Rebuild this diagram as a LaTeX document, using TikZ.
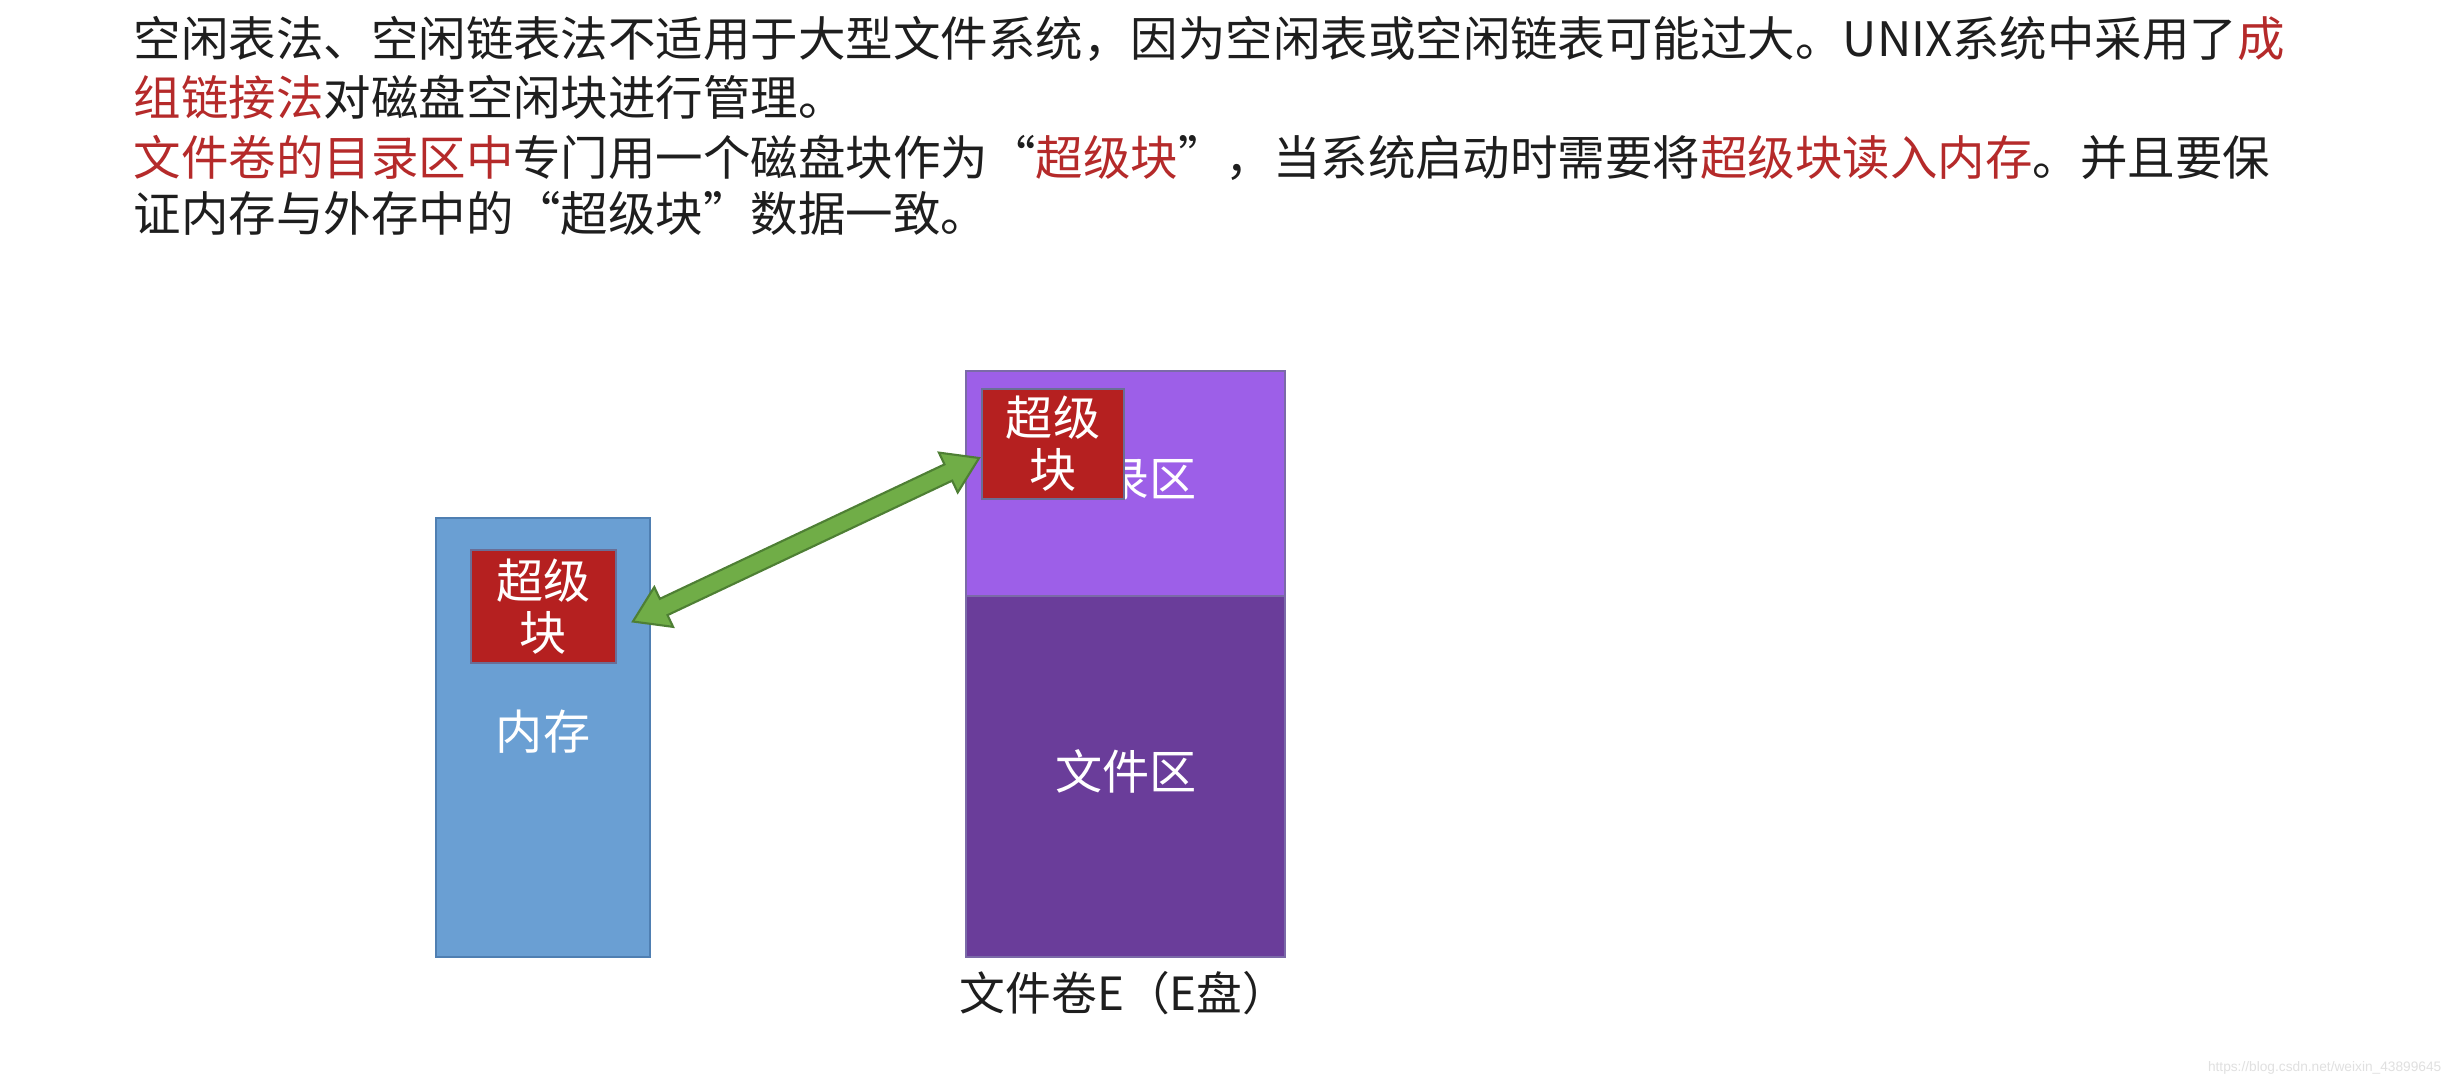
\documentclass[tikz,border=0pt]{standalone}
\usepackage{fontspec}
\setmainfont{Noto Sans CJK SC}
\newfontfamily\wmfont{Liberation Sans}
\usetikzlibrary{calc}
\definecolor{txt}{HTML}{1E1E1E}
\definecolor{hl}{HTML}{B52A2A}
\definecolor{memblue}{HTML}{6A9FD3}
\definecolor{memedge}{HTML}{4F7FB2}
\definecolor{sbred}{HTML}{B52020}
\definecolor{sbedge}{HTML}{6A6E96}
\definecolor{dirpurple}{HTML}{9D5FE8}
\definecolor{filepurple}{HTML}{6A3D9A}
\definecolor{diskedge}{HTML}{7B6AA8}
\definecolor{arrgreen}{HTML}{70AD47}
\definecolor{arredge}{HTML}{4E7F34}
\begin{document}
\begin{tikzpicture}[x=0.01cm,y=-0.01cm,
  bodyfont/.style={font=\fontsize{13.5pt}{16pt}\selectfont},
  textline/.style={bodyfont,text=txt,inner sep=0pt,anchor=west},
  region/.style={inner sep=0pt,line width=0.5pt},
  sblock/.style={region,fill=sbred,draw=sbedge,text=white,align=center,
    font=\fontsize{13.4pt}{14.8pt}\selectfont},
  whitelabel/.style={text=white,inner sep=0pt,font=\fontsize{13.4pt}{16pt}\selectfont},
  arrowfill/.style={fill=arrgreen,draw=arredge,line width=0.6pt,line join=miter}
]
\useasboundingbox[fill=white] (0,0) rectangle (2452,1088);

% --- explanatory text ---
\node[textline] (l1) at (133,39) {空闲表法、空闲链表法不适用于大型文件系统，因为空闲表或空闲链表可能过大。UNIX系统中采用了\textcolor{hl}{成}};
\node[textline] (l2) at (133,97) {\textcolor{hl}{组链接法}对磁盘空闲块进行管理。};
\node[textline] (l3) at (133,158) {\textcolor{hl}{文件卷的目录区中}专门用一个磁盘块作为“\textcolor{hl}{超级块}”，当系统启动时需要将\textcolor{hl}{超级块读入内存}。并且要保};
\node[textline] (l4) at (133,213) {证内存与外存中的“超级块”数据一致。};

% --- memory ---
\node[region,fill=memblue,draw=memedge,minimum width=2.14cm,minimum height=4.39cm] (mem) at (543,737.5) {};
\node[sblock,minimum width=1.45cm,minimum height=1.13cm] (memsb) at (543.5,606.5) {超级\\块};
\node[whitelabel] (memlbl) at (543,732) {内存};

% --- disk volume ---
\node[region,fill=dirpurple,draw=diskedge,minimum width=3.19cm,minimum height=2.25cm] (dir) at (1125.5,483.5) {};
\node[region,fill=filepurple,draw=diskedge,minimum width=3.19cm,minimum height=3.61cm] (filez) at (1125.5,776.5) {};
\node[whitelabel] (dirlbl) at (1126,480) {目录区};
\node[sblock,minimum width=1.42cm,minimum height=1.10cm] (disksb) at (1053,444) {超级\\块};
\node[whitelabel] (filelbl) at (1126,771) {文件区};
\node[text=txt,inner sep=0pt,font=\fontsize{13pt}{16pt}\selectfont] (vol) at (1124,993) {文件卷E（E盘）};

% --- double-headed block arrow ---
\coordinate (ta) at ($(memsb.east)+(16,15)$);
\coordinate (tb) at ($(disksb.west)+(-2,14)$);
\coordinate (ha) at ($(ta)!0.34cm!(tb)$);
\coordinate (hb) at ($(tb)!0.34cm!(ta)$);
\draw[arrowfill] (ta)
  -- ($(ha)!0.22cm!90:(tb)$) -- ($(ha)!0.09cm!90:(tb)$)
  -- ($(hb)!0.09cm!-90:(ta)$) -- ($(hb)!0.22cm!-90:(ta)$)
  -- (tb)
  -- ($(hb)!0.22cm!90:(ta)$) -- ($(hb)!0.09cm!90:(ta)$)
  -- ($(ha)!0.09cm!-90:(tb)$) -- ($(ha)!0.22cm!-90:(tb)$)
  -- cycle;

% --- watermark ---
\node[text=black!12,inner sep=0pt,anchor=east,font=\wmfont\fontsize{3.9pt}{4pt}\selectfont] (wm) at (2442,1068) {https://blog.csdn.net/weixin\_43899645};
\end{tikzpicture}
\end{document}
